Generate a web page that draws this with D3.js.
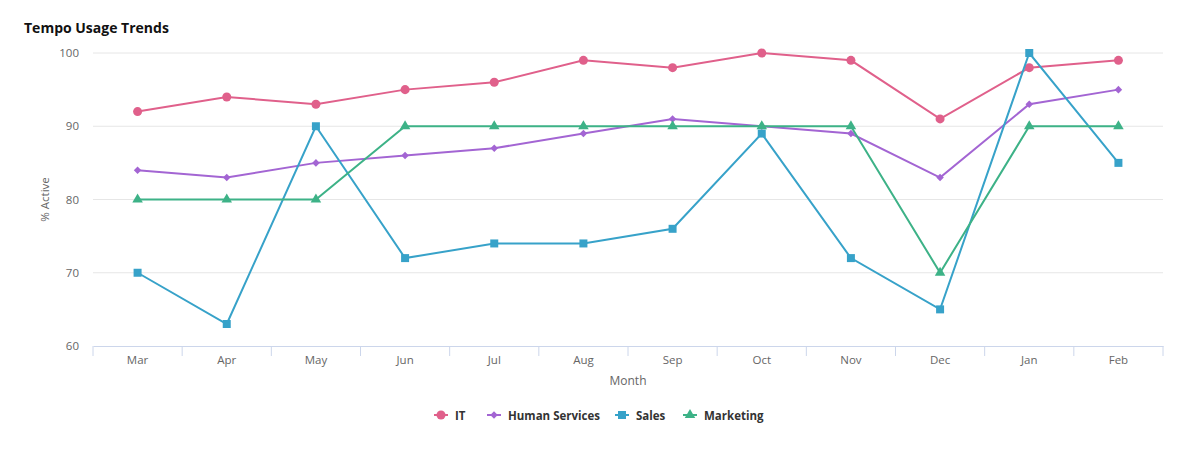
<!DOCTYPE html>
<html><head><meta charset="utf-8">
<script src="https://cdn.jsdelivr.net/npm/d3@7/dist/d3.min.js"></script>
<style>body{margin:0;background:#fff;font-family:"Open Sans",sans-serif;}</style>
</head><body><div id="chart"></div>
<script>
const months = ["Mar","Apr","May","Jun","Jul","Aug","Sep","Oct","Nov","Dec","Jan","Feb"];
const itValues = [92,94,93,95,96,99,98,100,99,91,98,99];
const hsValues = [84,83,85,86,87,89,91,90,89,83,93,95];
const salesValues = [70,63,90,72,74,74,76,89,72,65,100,85];
const marketingValues = [80,80,80,90,90,90,90,90,90,70,90,90];
const yTicks = [60,70,80,90,100];
const seriesNames = ["IT","Human Services","Sales","Marketing"];

(function(){
const series = [
  {name: seriesNames[0], values: itValues, color: "#e0608b", symbol: d3.symbolCircle, size: 64},
  {name: seriesNames[1], values: hsValues, color: "#a365d3", symbol: d3.symbolDiamond2, size: 36},
  {name: seriesNames[2], values: salesValues, color: "#37a2c9", symbol: d3.symbolSquare, size: 64},
  {name: seriesNames[3], values: marketingValues, color: "#3db287", symbol: d3.symbolTriangle, size: 48}
];

const W = 1197, H = 460;
const mLeft = 93, mRight = 1163, mTop = 53, mBottom = 346;
const svg = d3.select("#chart").append("svg").attr("width", W).attr("height", H);

const x = d3.scaleBand().domain(months).range([mLeft, mRight]);
const y = d3.scaleLinear().domain([60,100]).range([mBottom, mTop]);

svg.append("text").attr("x", 24).attr("y", 33).text("Tempo Usage Trends")
  .attr("font-size", 14).attr("font-weight", "bold").attr("fill", "#111");

svg.append("g").selectAll("line").data(yTicks.filter(t => t > 60)).join("line")
  .attr("x1", mLeft).attr("x2", mRight).attr("y1", d => y(d)).attr("y2", d => y(d))
  .attr("stroke", "#e6e6e6").attr("stroke-width", 1);

const yAxis = svg.append("g").attr("transform", `translate(${mLeft},0)`)
  .call(d3.axisLeft(y).tickValues(yTicks).tickSize(0).tickPadding(14));
yAxis.select(".domain").remove();
yAxis.selectAll("text").attr("font-size", 11.5).attr("fill", "#666").attr("font-family", "Open Sans");

svg.append("text").attr("transform", `translate(49,${(mTop+mBottom)/2}) rotate(-90)`)
  .attr("text-anchor", "middle").attr("font-size", 11.5).attr("fill", "#666").text("% Active");

const xAxis = svg.append("g").attr("transform", `translate(0,${mBottom})`)
  .call(d3.axisBottom(x).tickSize(0).tickPadding(10));
xAxis.select(".domain").attr("stroke", "#ccd6eb");
xAxis.selectAll("text").attr("font-size", 11.5).attr("fill", "#666").attr("font-family", "Open Sans");
const edges = months.map(m => x(m)).concat([mRight]);
svg.append("g").selectAll("line").data(edges).join("line")
  .attr("x1", d => d).attr("x2", d => d).attr("y1", mBottom).attr("y2", mBottom + 10)
  .attr("stroke", "#ccd6eb").attr("stroke-width", 1);

svg.append("text").attr("x", (mLeft+mRight)/2).attr("y", 385).attr("text-anchor", "middle")
  .attr("font-size", 12).attr("fill", "#666").text("Month");

const cx = m => x(m) + x.bandwidth()/2;
const line = d3.line().x((d,i) => cx(months[i])).y(d => y(d));

series.forEach(s => {
  svg.append("path").datum(s.values).attr("d", line).attr("fill", "none")
    .attr("stroke", s.color).attr("stroke-width", 2);
  svg.append("g").selectAll("path").data(s.values).join("path")
    .attr("d", d3.symbol().type(s.symbol).size(s.size))
    .attr("transform", (d,i) => `translate(${cx(months[i])},${y(d)})`)
    .attr("fill", s.color);
});

const legendX = [441, 494, 622, 690];
const lg = svg.append("g");
series.forEach((s, i) => {
  const g = lg.append("g").attr("transform", `translate(${legendX[i]},415)`);
  g.append("line").attr("x1", -7).attr("x2", 7).attr("stroke", s.color).attr("stroke-width", 2);
  g.append("path").attr("d", d3.symbol().type(s.symbol).size(s.size)).attr("fill", s.color);
  g.append("text").attr("x", 14).attr("y", 4.5).attr("font-size", 11.5).attr("font-weight", "bold")
    .attr("fill", "#333").text(s.name);
});
})();
</script></body></html>
